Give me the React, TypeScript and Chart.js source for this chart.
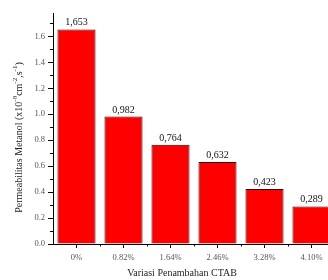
import React, { useEffect, useRef } from "react";
import { Chart, registerables } from "chart.js";

Chart.register(...registerables);

const categories = ["0%", "0.82%", "1.64%", "2.46%", "3.28%", "4.10%"];
const permeability = [1.653, 0.982, 0.764, 0.632, 0.423, 0.289];
const valueLabels = ["1,653", "0,982", "0,764", "0,632", "0,423", "0,289"];
const yMajorTicks = [0, 0.2, 0.4, 0.6, 0.8, 1.0, 1.2, 1.4, 1.6];
const yMinorTicks = [0.1, 0.3, 0.5, 0.7, 0.9, 1.1, 1.3, 1.5, 1.7];

const serif = "'Liberation Serif', 'Times New Roman', serif";

const decorPlugin = {
  id: "decor",
  afterDraw(chart: any) {
    const ctx = chart.ctx as CanvasRenderingContext2D;
    const x = chart.scales.x;
    const y = chart.scales.y;
    const area = chart.chartArea;
    ctx.save();
    ctx.strokeStyle = "#000";
    ctx.lineWidth = 1;
    ctx.beginPath();
    yMinorTicks.forEach((v) => {
      const py = Math.round(y.getPixelForValue(v)) + 0.5;
      ctx.moveTo(area.left - 3, py);
      ctx.lineTo(area.left, py);
    });
    for (let i = 1; i < categories.length; i++) {
      const px = Math.round((x.getPixelForValue(i - 1) + x.getPixelForValue(i)) / 2) + 0.5;
      ctx.moveTo(px, area.bottom);
      ctx.lineTo(px, area.bottom + 2.5);
    }
    ctx.stroke();

    const meta = chart.getDatasetMeta(0);
    ctx.fillStyle = "#111";
    ctx.font = `10px ${serif}`;
    ctx.textAlign = "center";
    ctx.textBaseline = "alphabetic";
    meta.data.forEach((bar: any, i: number) => {
      ctx.fillText(valueLabels[i], bar.x, bar.y - 4);
    });

    ctx.font = `10px ${serif}`;
    ctx.fillStyle = "#222";
    ctx.textBaseline = "middle";
    ctx.fillText("Variasi Penambahan CTAB", area.left + 129, 273);

    const parts: [string, boolean][] = [
      ["Permeabilitas Metanol (x10", false],
      ["-8", true],
      ["cm", false],
      ["-2", true],
      [",s", false],
      ["-1", true],
      [")", false],
    ];
    const big = `10px ${serif}`;
    const small = `7px ${serif}`;
    let total = 0;
    parts.forEach(([t, s]) => {
      ctx.font = s ? small : big;
      total += ctx.measureText(t).width;
    });
    ctx.translate(19, (area.top + area.bottom) / 2 + 9);
    ctx.rotate(-Math.PI / 2);
    ctx.textAlign = "left";
    ctx.textBaseline = "middle";
    let cx = -total / 2;
    parts.forEach(([t, s]) => {
      ctx.font = s ? small : big;
      ctx.fillText(t, cx, s ? -4 : 0);
      cx += ctx.measureText(t).width;
    });
    ctx.restore();
  },
};

export default function App() {
  const ref = useRef<HTMLCanvasElement | null>(null);
  useEffect(() => {
    if (!ref.current) return;
    const chart = new Chart(ref.current, {
      type: "bar",
      data: {
        labels: categories,
        datasets: [
          {
            data: permeability,
            backgroundColor: "#ff0000",
            borderColor: "#2a0000",
            borderWidth: 1,
            barPercentage: 0.81,
            categoryPercentage: 1,
          },
        ],
      },
      options: {
        responsive: false,
        animation: false,
        devicePixelRatio: 1,
        layout: { padding: { top: 13, right: 5, bottom: 0, left: 0 } },
        plugins: { legend: { display: false }, tooltip: { enabled: false } },
        scales: {
          x: {
            offset: true,
            grid: {
              offset: false,
              drawOnChartArea: false,
              tickLength: 4,
              color: "#000",
            },
            border: { display: true, color: "#000", width: 1 },
            ticks: {
              color: "#555",
              font: { family: serif, size: 8.5 },
              padding: 5,
              maxRotation: 0,
            },
            afterFit(s: any) {
              s.height = 36;
            },
          },
          y: {
            min: 0,
            max: 1.78,
            afterBuildTicks(s: any) {
              s.ticks = yMajorTicks.map((v) => ({ value: v }));
            },
            grid: {
              drawOnChartArea: false,
              tickLength: 5,
              color: "#000",
            },
            border: { display: true, color: "#000", width: 1 },
            ticks: {
              color: "#555",
              font: { family: serif, size: 8.5 },
              padding: 3,
              callback: (v: any) => Number(v).toFixed(1),
            },
            afterFit(s: any) {
              s.width = 53;
            },
          },
        },
      },
      plugins: [decorPlugin],
    });
    return () => chart.destroy();
  }, []);
  return (
    <div style={{ position: "fixed", left: 0, top: 0, width: 328, height: 280, overflow: "hidden", background: "#fff" }}>
      <canvas ref={ref} width={340} height={280} style={{ display: "block" }} />
    </div>
  );
}
